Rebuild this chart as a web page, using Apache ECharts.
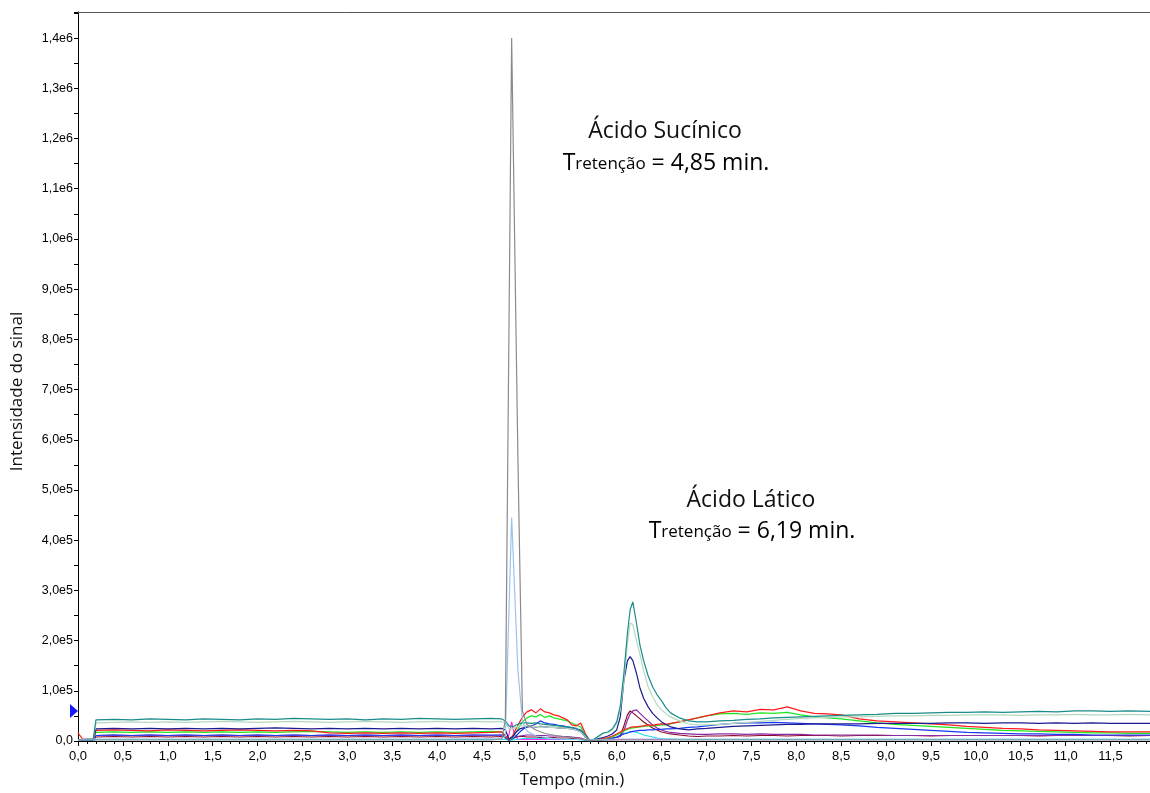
<!DOCTYPE html>
<html>
<head>
    <meta charset="utf-8">
    <title>cromatograma</title>
    <script src="https://cdn.jsdelivr.net/npm/echarts@6/dist/echarts.min.js"></script>
    <style>
        html, body { margin: 0; padding: 0; background: #fff; }
        #main { width: 1150px; height: 793px; }
    </style>
</head>
<body>
<div id="main"></div>
<script type="text/javascript">
    // tempo (min.) comum as curvas principais
    var tempo = [
        0, 0.05, 0.17, 0.2, 0.4, 0.6, 0.8, 1.0, 1.2, 1.4, 1.6, 1.8, 2.0, 2.2, 2.4, 2.6, 2.8, 3.0, 3.2, 3.4, 3.6, 3.8, 4.0, 4.2, 4.4, 4.6, 4.72,
        4.76, 4.8, 4.84, 4.88, 4.92, 4.96, 5.0, 5.05, 5.1, 5.15, 5.2, 5.25, 5.3, 5.35, 5.4, 5.45, 5.5, 5.55, 5.6, 5.65, 5.7,
        5.75, 5.8, 5.85, 5.9, 5.95, 6.0, 6.04, 6.08, 6.12, 6.15, 6.18, 6.22, 6.26, 6.3, 6.35, 6.4, 6.45, 6.5, 6.55, 6.6, 6.7, 6.8, 6.9,
        7.0, 7.15, 7.3, 7.45, 7.6, 7.75, 7.9, 8.05, 8.2, 8.35, 8.5, 8.7, 8.9, 9.1, 9.3, 9.5, 9.7, 9.9, 10.1, 10.3, 10.5, 10.7, 10.9, 11.1, 11.3, 11.5, 11.7, 11.94
    ];

    // intensidades em milhares (x1000)
    var teal = [
        3, 3, 4, 42, 43, 42, 44, 43, 42, 44, 43, 42, 44, 43, 45, 44, 43, 44, 42, 44, 43, 45, 44, 43, 44, 45, 44,
        40, 30, 28, 32, 35, 36, 36, 35, 36, 34, 33, 32, 31, 30, 29, 28, 27, 25, 22, 12, 1,
        4, 10, 16, 18, 24, 38, 70, 135, 215, 262, 277, 235, 190, 160, 130, 108, 92, 80, 66, 56, 46, 40, 38,
        38, 40, 41, 43, 44, 46, 47, 48, 49, 50, 51, 52, 53, 55, 55, 56, 57, 57, 58, 57, 58, 59, 58, 60, 60, 59, 60, 59
    ];
    var verdeClaro = [
        3, 3, 4, 36, 37, 38, 37, 38, 37, 38, 39, 38, 37, 38, 39, 38, 37, 38, 39, 38, 37, 38, 39, 38, 39, 38, 39,
        35, 25, 24, 28, 30, 30, 30, 29, 29, 28, 28, 27, 27, 26, 26, 25, 24, 22, 18, 9, 1,
        4, 9, 15, 17, 22, 34, 62, 120, 195, 235, 232, 200, 172, 140, 108, 88, 72, 62, 54, 48, 40, 34, 32,
        32, 33, 35, 37, 39, 41, 43, 45, 46, 47, 48, 48, 49, 50, 50, 51, 51, 52, 52, 52, 51, 52, 52, 53, 52, 52, 53, 52
    ];
    var marinho = [
        3, 3, 4, 24, 25, 24, 25, 24, 25, 24, 25, 24, 25, 26, 25, 24, 25, 24, 25, 24, 25, 24, 25, 24, 25, 24, 25,
        22, 4, 8, 18, 24, 26, 28, 29, 28, 29, 28, 27, 27, 26, 26, 25, 24, 22, 18, 8, 1,
        3, 5, 7, 10, 14, 22, 48, 120, 160, 168, 160, 135, 105, 85, 68, 55, 46, 38, 33, 28, 24, 22, 24,
        25, 27, 29, 30, 31, 32, 33, 33, 34, 34, 34, 34, 35, 35, 35, 35, 36, 36, 35, 36, 36, 35, 36, 35, 36, 35, 35, 35
    ];
    var vermelho = [
        16, 4, 3, 21, 22, 21, 20, 22, 21, 20, 21, 22, 21, 20, 21, 20, 16, 15, 16, 15, 16, 15, 16, 15, 16, 17, 18,
        10, 3, 10, 25, 38, 50, 58, 62, 56, 64, 58, 56, 52, 50, 46, 42, 32, 30, 36, 15, 1,
        2, 3, 5, 7, 10, 14, 18, 22, 25, 27, 28, 28, 29, 30, 32, 31, 33, 34, 33, 35, 38, 42, 46,
        50, 56, 60, 58, 63, 62, 68, 60, 55, 54, 52, 44, 40, 38, 36, 34, 32, 29, 27, 25, 24, 22, 21, 20, 19, 18, 18, 18
    ];
    var verde = [
        3, 3, 4, 17, 18, 17, 18, 17, 18, 17, 18, 17, 18, 17, 18, 19, 18, 17, 18, 17, 18, 17, 18, 17, 18, 19, 18,
        10, 2, 6, 18, 30, 40, 46, 50, 48, 53, 47, 50, 46, 44, 42, 40, 36, 32, 28, 12, 1,
        2, 3, 4, 6, 8, 12, 16, 20, 23, 25, 26, 27, 28, 29, 30, 30, 31, 32, 32, 34, 38, 42, 46,
        50, 54, 55, 53, 56, 55, 57, 52, 48, 46, 44, 40, 36, 33, 31, 29, 27, 25, 23, 21, 20, 19, 18, 17, 16, 16, 15, 15
    ];
    var azul = [
        2, 2, 2, 11, 12, 11, 12, 11, 12, 11, 12, 11, 12, 11, 12, 11, 12, 11, 12, 11, 12, 11, 12, 11, 12, 12, 12,
        6, 1, 4, 10, 18, 24, 28, 30, 34, 40, 36, 34, 33, 31, 30, 28, 26, 24, 20, 10, 1,
        2, 2, 3, 4, 6, 8, 11, 14, 16, 18, 19, 20, 21, 21, 22, 22, 23, 23, 24, 24, 25, 27, 28,
        30, 33, 35, 36, 36, 37, 36, 35, 34, 33, 32, 30, 27, 25, 23, 21, 19, 17, 16, 15, 14, 14, 13, 13, 12, 12, 12, 12
    ];
    var bordo = [
        3, 3, 3, 8, 9, 8, 9, 8, 9, 8, 9, 8, 9, 8, 9, 8, 9, 8, 9, 8, 9, 8, 9, 8, 9, 8, 9,
        8, 4, 6, 8, 9, 9, 8, 8, 8, 7, 7, 7, 7, 6, 6, 6, 5, 5, 4, 2, 1,
        2, 3, 4, 5, 6, 7, 10, 30, 52, 60, 56, 50, 44, 38, 32, 26, 22, 18, 16, 14, 12, 10, 9,
        10, 10, 11, 10, 11, 11, 10, 11, 11, 11, 10, 11, 11, 11, 11, 10, 11, 11, 11, 11, 11, 10, 11, 11, 11, 11, 10, 11
    ];
    var roxo = [
        3, 3, 3, 11, 12, 11, 12, 11, 12, 11, 12, 11, 12, 11, 12, 11, 12, 11, 12, 11, 12, 11, 12, 11, 12, 11, 12,
        10, 3, 5, 8, 10, 11, 12, 12, 11, 11, 11, 10, 10, 10, 9, 9, 8, 7, 6, 3, 1,
        2, 3, 4, 5, 6, 7, 9, 20, 42, 54, 60, 62, 55, 48, 40, 32, 26, 22, 19, 17, 15, 14, 13,
        13, 14, 14, 13, 14, 13, 13, 13, 12, 12, 12, 12, 12, 11, 11, 11, 11, 11, 11, 11, 11, 11, 11, 11, 11, 11, 11, 11
    ];
    var ciano = [
        1, 1, 1, 3, 3, 3, 3, 3, 3, 3, 3, 3, 3, 3, 3, 3, 3, 3, 3, 3, 3, 3, 3, 3, 3, 3, 3,
        3, 2, 2, 3, 4, 5, 5, 5, 5, 5, 5, 4, 4, 4, 4, 3, 3, 3, 2, 1, 0,
        1, 1, 2, 3, 5, 8, 12, 15, 17, 18, 19, 17, 15, 12, 10, 8, 6, 5, 4, 4, 3, 3, 3,
        3, 3, 3, 3, 3, 3, 3, 3, 3, 3, 3, 3, 3, 3, 3, 3, 3, 3, 3, 3, 3, 3, 3, 3, 3, 3, 3, 3
    ];

    // picos estreitos (acido sucinico) com grade propria
    var tempoCinza = [0, 0.2, 1, 2, 3, 4, 4.6, 4.72, 4.76, 4.83, 4.9, 4.95, 5.0, 5.1, 5.2, 5.35, 5.5, 5.7, 6.0, 7, 8, 9, 10, 11, 11.94];
    var cinza = [2, 2, 2, 2, 2, 2, 2, 4, 42, 1400, 560, 60, 33, 22, 15, 10, 7, 1, 2, 2, 2, 2, 2, 2, 2];
    var tempoAzulClaro = [0, 0.2, 2, 4, 4.72, 4.76, 4.83, 4.9, 4.95, 5.0, 5.1, 5.3, 5.7, 6, 8, 10, 11.94];
    var azulClaro = [2, 4, 4, 4, 5, 10, 445, 140, 40, 20, 10, 5, 2, 4, 4, 4, 4];
    var tempoMagenta = [0, 4.76, 4.8, 4.83, 4.86, 4.9, 11.94];
    var magenta = [3, 3, 12, 38, 14, 3, 3];

    function pares(t, v) {
        return t.map(function (x, i) { return [x, v[i] * 1000]; });
    }

    function linha(nome, cor, t, v) {
        return {
            name: nome, type: 'line', data: pares(t, v),
            symbol: 'none', animation: false,
            lineStyle: { color: cor, width: 1.2 },
            itemStyle: { color: cor }
        };
    }

    function fmtY(v) {
        if (Math.round(v) % 100000 !== 0) return '';
        if (v === 0) return '0,0';
        var e = Math.floor(Math.log10(v) + 1e-9);
        var m = v / Math.pow(10, e);
        return m.toFixed(1).replace('.', ',') + 'e' + e;
    }

    function fmtX(v) {
        if (Math.abs(v * 2 - Math.round(v * 2)) > 1e-6) return '';
        return v.toFixed(1).replace('.', ',');
    }

    var series = [
        linha('magenta', '#ff2cf0', tempoMagenta, magenta),
        linha('ciano', '#20dcef', tempo, ciano),
        linha('bordo', '#8c0a28', tempo, bordo),
        linha('roxo', '#8a2aa6', tempo, roxo),
        linha('azul', '#1838f2', tempo, azul),
        linha('verde', '#20e620', tempo, verde),
        linha('vermelho', '#ff1c1c', tempo, vermelho),
        linha('marinho', '#1c1c90', tempo, marinho),
        linha('verde claro', '#b4d9bf', tempo, verdeClaro),
        linha('teal', '#1a8c8a', tempo, teal),
        linha('azul claro', '#98c4ee', tempoAzulClaro, azulClaro),
        linha('cinza', '#8a8a8a', tempoCinza, cinza)
    ];
    // marcador azul no eixo y
    series[4].markPoint = {
        symbol: 'triangle', symbolSize: [14, 8], symbolRotate: -90, symbolOffset: [-4, 0],
        itemStyle: { color: '#1a1aff' }, label: { show: false },
        data: [{ coord: [0, 60000] }]
    };

    var txtTitulo = { fontFamily: 'Open Sans', fontSize: 23, fill: '#111' };
    var richT = {
        g: { fontFamily: 'Open Sans', fontSize: 23, color: '#111', verticalAlign: 'bottom' },
        p: { fontFamily: 'Open Sans', fontSize: 17, color: '#111', verticalAlign: 'bottom', padding: [0, 0, 2, 0] }
    };

    var myChart = echarts.init(document.getElementById('main'));
    var option = {
        backgroundColor: '#fff',
        animation: false,
        grid: { left: 78, top: 12, right: 0, bottom: 52, outerBoundsMode: 'none', containLabel: false },
        xAxis: [{
            type: 'value', min: 0, max: 11.94, interval: 0.5,
            name: 'Tempo (min.)', nameLocation: 'middle', nameGap: 31,
            nameTextStyle: { fontFamily: 'Open Sans', fontSize: 17, color: '#111', padding: [0, 84, 0, 0] },
            axisLine: { onZero: false, lineStyle: { color: '#000', width: 1 } },
            axisTick: { length: 5, lineStyle: { color: '#000' } },
            minorTick: { show: true, splitNumber: 5, length: 3, lineStyle: { color: '#000' } },
            axisLabel: { formatter: fmtX, fontFamily: 'Liberation Sans', fontSize: 13, color: '#000', margin: 9 },
            splitLine: { show: false }
        }, {
            type: 'value', position: 'top', min: 0, max: 11.94,
            axisLine: { show: true, onZero: false, lineStyle: { color: '#555', width: 1 } },
            axisTick: { show: false }, axisLabel: { show: false }, splitLine: { show: false }
        }],
        yAxis: {
            type: 'value', min: 0, max: 1452000, interval: 100000,
            name: 'Intensidade do sinal', nameLocation: 'middle', nameGap: 52, nameRotate: 90,
            nameTextStyle: { fontFamily: 'Open Sans', fontSize: 17, color: '#111', padding: [0, 30, 0, 0] },
            axisLine: { show: true, lineStyle: { color: '#000', width: 1 } },
            axisTick: { show: true, length: 4, lineStyle: { color: '#000' } },
            minorTick: { show: true, splitNumber: 2, length: 4, lineStyle: { color: '#000' } },
            axisLabel: { formatter: fmtY, fontFamily: 'Liberation Sans', fontSize: 12.5, color: '#000', margin: 5 },
            splitLine: { show: false }
        },
        graphic: [
            { type: 'text', x: 665, y: 131, style: Object.assign({ text: 'Ácido Sucínico', align: 'center', verticalAlign: 'middle' }, txtTitulo) },
            { type: 'text', x: 666, y: 163, style: { text: '{g|T}{p|retenção}{g| = 4,85 min.}', rich: richT, align: 'center', verticalAlign: 'middle' } },
            { type: 'text', x: 751, y: 500, style: Object.assign({ text: 'Ácido Lático', align: 'center', verticalAlign: 'middle' }, txtTitulo) },
            { type: 'text', x: 752, y: 531, style: { text: '{g|T}{p|retenção}{g| = 6,19 min.}', rich: richT, align: 'center', verticalAlign: 'middle' } }
        ],
        series: series
    };
    myChart.setOption(option);
</script>
</body>
</html>
